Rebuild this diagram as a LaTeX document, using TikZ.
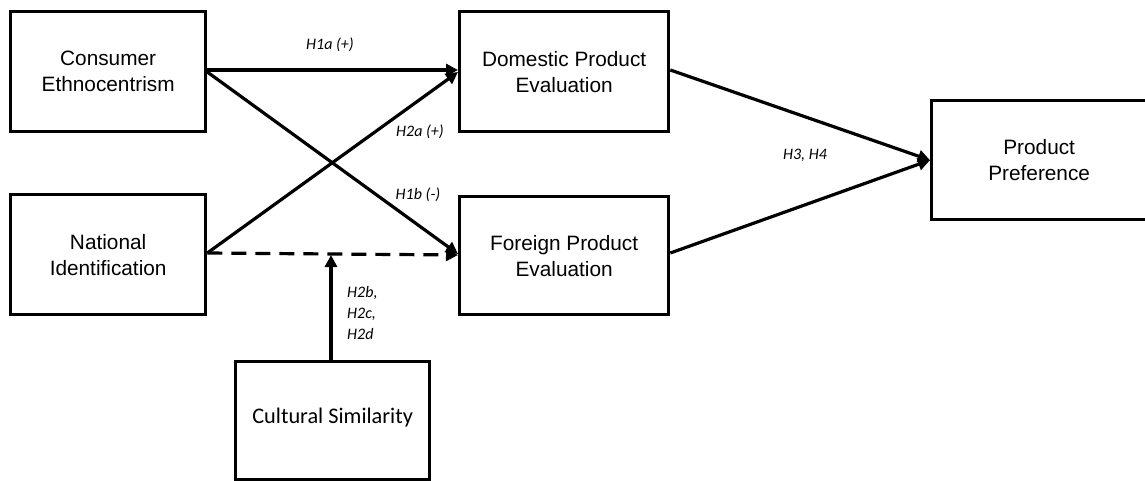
\documentclass[tikz,border=0pt]{standalone}
\usepackage{fontspec}
\setmainfont{Liberation Sans}
\newfontfamily\calib{Carlito}
\usetikzlibrary{arrows.meta}
\begin{document}
\begin{tikzpicture}[x=1pt,y=-1pt,
  box/.style={draw,line width=3.3pt,anchor=north west,inner sep=0pt,align=center,
    font=\fontsize{20.8}{26}\selectfont},
  conn/.style={line width=3.2pt,-{Triangle[length=12pt,width=12pt]}},
  lab/.style={font=\calib\itshape\fontsize{16}{21}\selectfont,inner sep=0pt,align=left}]
\useasboundingbox (0,0) rectangle (1145,480);
\node[box,minimum width=195pt,minimum height=120pt] (ce) at (9,10) {Consumer\\Ethnocentrism};
\node[box,minimum width=195pt,minimum height=120pt] (ni) at (9,193) {National\\Identification};
\node[box,minimum width=209pt,minimum height=120pt] (dpe) at (458,10) {Domestic Product\\Evaluation};
\node[box,minimum width=209pt,minimum height=118pt] (fpe) at (458,195) {Foreign Product\\Evaluation};
\node[box,minimum width=215pt,minimum height=119pt] (pp) at (930,99) {Product\\Preference};
\node[box,minimum width=194pt,minimum height=118pt,font=\calib\fontsize{22.3}{26}\selectfont] (cs) at (234,360) {\raisebox{10pt}{Cultural Similarity}};
\coordinate (m) at (331,255);
\draw[conn] (ce.east |- 0,70) -- (dpe.west |- 0,70);
\draw[conn] (ce.east |- 0,72) -- (fpe.west |- 0,254);
\draw[conn] (ni.east |- 0,253) -- (dpe.west |- 0,72);
\draw[conn,dash pattern=on 15pt off 9pt] (ni.east |- 0,253) -- (fpe.west |- 0,255);
\draw[conn] (cs.north -| m) -- (m);
\draw[conn] (dpe.east |- 0,70) -- (pp.west);
\draw[conn] (fpe.east |- 0,253) -- (pp.west);
\node[lab] (l1) at (330,45) {H1a (+)};
\node[lab] (l2) at (420,132) {H2a (+)};
\node[lab] (l3) at (418,195) {H1b (-)};
\node[lab,anchor=north west] (l4) at (347,286) {H2b,\\H2c,\\H2d};
\node[lab] (l5) at (805,155) {H3, H4};
\end{tikzpicture}
\end{document}
